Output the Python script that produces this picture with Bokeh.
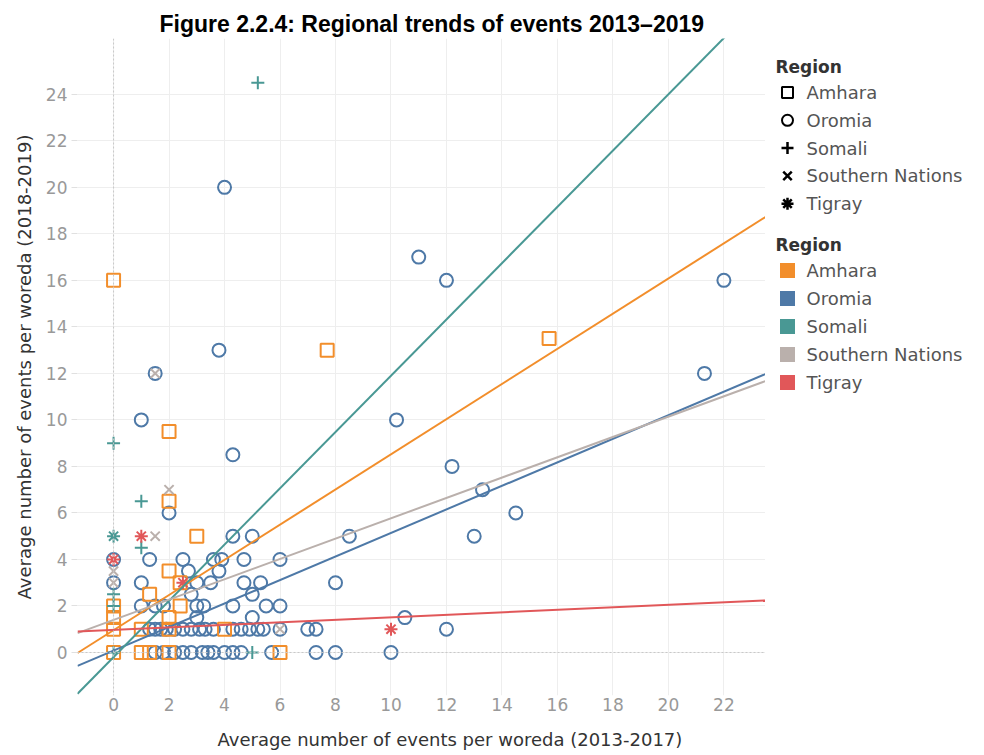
import numpy as np
from bokeh.plotting import figure
from bokeh.layouts import row
from bokeh.models import Range1d, Span, FixedTicker, Title
from bokeh.embed import file_html
from bokeh.resources import INLINE
from bokeh.core.properties import value

# ---------------- data ----------------
regions = ["Amhara", "Oromia", "Somali", "Southern Nations", "Tigray"]
region_colors = ["#F28E2B", "#4E79A7", "#499894", "#BAB0AC", "#E15759"]
region_markers = ["square", "circle", "cross", "x", "asterisk"]

amhara_x = [0, 7.7, 15.7, 2, 2, 3, 2, 2.4, 1.3, 0, 2.4, 0, 2, 0, 1, 2, 4, 0, 1, 1.3, 2, 6]
amhara_y = [16, 13, 13.5, 9.5, 6.5, 5, 3.5, 3, 2.5, 2, 2, 1.5, 1.5, 1, 1, 1, 1, 0, 0, 0, 0, 0]

oromia_x = [4.0, 11.0, 12.0, 22.0, 3.8, 1.5, 21.3, 1.0, 10.2, 4.3, 12.2, 13.3, 2.0, 14.5,
            4.3, 5.0, 8.5, 13.0,
            0, 1.3, 2.5, 3.6, 3.9, 4.7, 6.0,
            2.7, 3.8,
            0, 1.0, 3.0, 3.5, 4.7, 5.3, 8.0,
            2.8, 5.0,
            1.0, 1.5, 1.8, 3.0, 3.25, 4.3, 5.5, 6.0,
            3.0, 5.0, 10.5,
            1.3, 1.5, 1.7, 1.9, 2.2, 2.5, 2.8, 3.1, 3.3, 3.6, 4.3, 4.6, 4.9, 5.2, 5.4, 6.0, 7.0, 7.3, 12.0,
            1.5, 1.8, 2.2, 2.5, 2.8, 3.2, 3.4, 3.6, 4.0, 4.3, 4.6, 5.7, 7.3, 8.0, 10.0]
oromia_y = [20, 17, 16, 16, 13, 12, 12, 10, 10, 8.5, 8, 7, 6, 6,
            5, 5, 5, 5,
            4, 4, 4, 4, 4, 4, 4,
            3.5, 3.5,
            3, 3, 3, 3, 3, 3, 3,
            2.5, 2.5,
            2, 2, 2, 2, 2, 2, 2, 2,
            1.5, 1.5, 1.5,
            1, 1, 1, 1, 1, 1, 1, 1, 1, 1, 1, 1, 1, 1, 1, 1, 1, 1, 1,
            0, 0, 0, 0, 0, 0, 0, 0, 0, 0, 0, 0, 0, 0, 0]

somali_x = [5.2, 0, 1, 1, 0, 0, 0, 5]
somali_y = [24.5, 9, 6.5, 4.5, 2.5, 2, 0, 0]
somali_star_x = [0]
somali_star_y = [5]

snnp_x = [1.5, 2, 1.5, 0, 0, 6]
snnp_y = [12, 7, 5, 3.5, 3, 1]

tigray_x = [1, 0, 2.5, 10]
tigray_y = [5, 4, 3, 1]

# linear trend lines (intercept, slope) per region
trend_intercept = [0.96, 0.08, -0.2, 1.4, 0.97]
trend_slope = [0.756, 0.506, 1.21, 0.437, 0.054]

x_ticks = list(range(0, 23, 2))
y_ticks = list(range(0, 25, 2))
X_MIN, X_MAX = -1.3, 23.5
Y_MIN, Y_MAX = -1.85, 26.4

FONT = "DejaVu Sans"

# ---------------- layout geometry (pixels) ----------------
LEFT, TOP, FW, FH, BOTTOM = 77, 38, 688, 657, 60
LW = 984 - (LEFT + FW) - 2

# ---------------- main plot ----------------
p = figure(frame_width=FW, frame_height=FH, x_range=Range1d(X_MIN, X_MAX), y_range=Range1d(Y_MIN, Y_MAX),
           output_backend="svg", toolbar_location=None,
           min_border_left=LEFT, min_border_right=0, min_border_top=TOP, min_border_bottom=BOTTOM)
p.outline_line_color = None
p.background_fill_color = "white"

p.title.text = "Figure 2.2.4: Regional trends of events 2013\u20132019"
p.title.text_font = "Liberation Sans"
p.title.text_font_style = "bold"
p.title.text_font_size = "23px"
p.title.text_color = "#000000"
p.title.align = "left"
p.title.offset = 82
p.title.standoff = 3

p.xaxis.ticker = FixedTicker(ticks=x_ticks)
p.yaxis.ticker = FixedTicker(ticks=y_ticks)
for ax in (p.xaxis, p.yaxis):
    ax.axis_line_color = None
    ax.major_tick_line_color = "#e0e0e0"
    ax.minor_tick_line_color = None
    ax.major_label_text_font = FONT
    ax.major_label_text_font_size = "17px"
    ax.major_label_text_color = "#999999"
    ax.axis_label_text_font = FONT
    ax.axis_label_text_font_style = "normal"
    ax.axis_label_text_color = "#333333"
    ax.axis_label_text_font_size = "18px"
p.yaxis.axis_label = "Average number of events per woreda (2018-2019)"
p.yaxis.axis_label_standoff = 8
p.xaxis.major_tick_in = 0
p.xaxis.major_tick_out = 0
p.xaxis.major_label_standoff = 2
p.yaxis.major_tick_in = 0
p.yaxis.major_tick_out = 6
p.yaxis.major_label_standoff = 4

xlabel = Title(text="Average number of events per woreda (2013-2017)", align="left", offset=140,
               text_font=FONT, text_font_size="18px", text_font_style="normal",
               text_color="#333333", standoff=27)
p.add_layout(xlabel, "below")

p.xgrid.grid_line_color = "#eeeeee"
p.ygrid.grid_line_color = "#eeeeee"
p.add_layout(Span(location=0, dimension="height", line_color="#c8c8c8", line_dash="2 2", line_width=1))
p.add_layout(Span(location=0, dimension="width", line_color="#c8c8c8", line_dash="2 2", line_width=1))

series = [(amhara_x, amhara_y), (oromia_x, oromia_y), (somali_x, somali_y), (snnp_x, snnp_y), (tigray_x, tigray_y)]
order = [1, 0, 3, 2, 4]
for i in order:
    xs, ys = series[i]
    m = region_markers[i]
    if m in ("square", "circle"):
        p.scatter(xs, ys, marker=m, size=13, fill_color=None, line_color=region_colors[i], line_width=2)
    else:
        p.scatter(xs, ys, marker=m, size=13, line_color=region_colors[i], line_width=2)
p.scatter(somali_star_x, somali_star_y, marker="asterisk", size=13, line_color=region_colors[2], line_width=2)

xl = np.array([X_MIN, X_MAX])
for i in range(len(regions)):
    p.line(xl, trend_intercept[i] + trend_slope[i] * xl, line_color=region_colors[i], line_width=2)

# ---------------- legend panel (page pixel coordinates) ----------------
x0 = LEFT + FW
lg = figure(frame_width=LW, frame_height=FH, x_range=Range1d(x0, x0 + LW), y_range=Range1d(TOP + FH, TOP),
            output_backend="svg", toolbar_location=None,
            min_border_left=0, min_border_right=0, min_border_top=TOP, min_border_bottom=BOTTOM,
            x_axis_type=None, y_axis_type=None)
lg.outline_line_color = None
lg.grid.visible = False

title_y = [66, 244]
lg.text(x=[775, 775], y=title_y, text=["Region", "Region"], text_font=value(FONT),
        text_font_size="17px", text_font_style="bold", text_color="#333333",
        text_baseline="middle", text_align="left")
shape_y = [title_y[0] + 26 + 27.8 * k for k in range(5)]
color_y = [title_y[1] + 26 + 28 * k for k in range(5)]
for k in range(5):
    m = region_markers[k]
    if m in ("square", "circle"):
        lg.scatter([787], [shape_y[k]], marker=m, size=11, fill_color=None, line_color="black", line_width=2)
    else:
        lg.scatter([787], [shape_y[k]], marker=m, size=12, line_color="black", line_width=2.5)
    lg.scatter([787], [color_y[k]], marker="square", size=15, fill_color=region_colors[k],
               line_color=None)
lg.text(x=[806] * 5, y=shape_y, text=regions, text_font=value(FONT), text_font_size="18px",
        text_color="#555555", text_baseline="middle", text_align="left")
lg.text(x=[806] * 5, y=color_y, text=regions, text_font=value(FONT), text_font_size="18px",
        text_color="#555555", text_baseline="middle", text_align="left")

layout = row(p, lg)
open("out.html", "w").write(file_html(layout, INLINE))
